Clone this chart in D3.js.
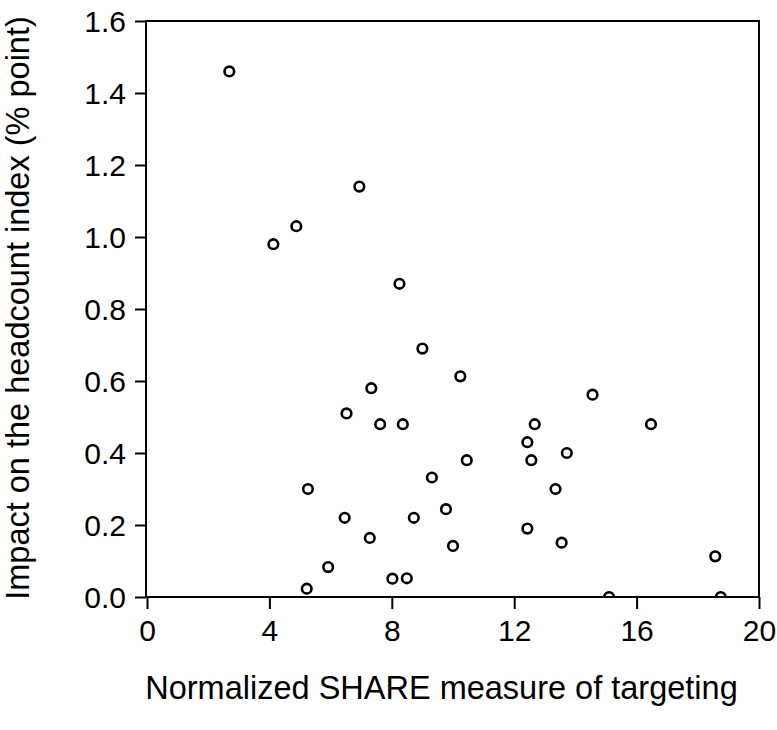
<!DOCTYPE html>
<html>
<head>
<meta charset="utf-8">
<script src="https://cdn.jsdelivr.net/npm/d3@7"></script>
<style>
  body { margin: 0; background: #fff; }
  svg text { font-family: "Liberation Sans", Arial, sans-serif; fill: #000; }
</style>
</head>
<body>
<script>
// data
var shareVals = [2.69, 4.13, 4.88, 6.94, 8.25,
    7.33, 6.52, 7.62, 8.36, 5.26, 6.46, 7.28, 5.92, 5.22, 8.02,
    9.0, 10.24, 14.56, 12.67, 16.47, 12.43, 12.56, 10.45, 13.72, 9.31,
    13.35, 9.77, 8.72, 12.43, 10.0, 13.55, 18.57, 8.49, 15.10, 18.75];
var impactVals = [1.46, 0.98, 1.03, 1.14, 0.87,
    0.58, 0.51, 0.48, 0.48, 0.30, 0.22, 0.164, 0.083, 0.023, 0.051,
    0.69, 0.613, 0.562, 0.48, 0.48, 0.43, 0.38, 0.38, 0.40, 0.332,
    0.30, 0.244, 0.22, 0.19, 0.142, 0.151, 0.113, 0.052, 0.0, 0.0];
var xTicks = [0, 4, 8, 12, 16, 20];
var yTicks = [0.0, 0.2, 0.4, 0.6, 0.8, 1.0, 1.2, 1.4, 1.6];
var xTitle = "Normalized SHARE measure of targeting";
var yTitle = "Impact on the headcount index (% point)";

var W = 777, H = 730;
var pL = 147, pR = 759, pT = 21, pB = 597;   // plot box edges

var svg = d3.select("body").append("svg")
    .attr("width", W)
    .attr("height", H);

var x = d3.scaleLinear().domain([0, 20]).range([pL, pR]);
var y = d3.scaleLinear().domain([0, 1.6]).range([pB, pT]);

// clip so the zero points get cut at the axis
svg.append("clipPath").attr("id", "plotclip")
  .append("rect")
    .attr("x", pL).attr("y", pT)
    .attr("width", pR - pL).attr("height", pB - pT);

// points
svg.append("g")
    .attr("clip-path", "url(#plotclip)")
  .selectAll("circle")
    .data(shareVals)
    .enter()
    .append("circle")
    .attr("cx", function(d) { return x(d); })
    .attr("cy", function(d, i) { return y(impactVals[i]); })
    .attr("r", 4.8)
    .style("fill", "none")
    .style("stroke", "#000")
    .style("stroke-width", 2.6);

// x axis
var xAxis = svg.append("g")
    .attr("transform", "translate(0," + pB + ")")
    .call(d3.axisBottom(x).tickValues(xTicks).tickSize(12).tickPadding(11)
        .tickFormat(d3.format("d")));
xAxis.selectAll("text").style("font-size", "30px");

// y axis
var yAxis = svg.append("g")
    .attr("transform", "translate(" + (pL - 1) + ",0)")
    .call(d3.axisLeft(y).tickValues(yTicks).tickSize(11).tickPadding(9)
        .tickFormat(d3.format(".1f")));
yAxis.selectAll("text").style("font-size", "30px").attr("dy", "0.36em");

svg.selectAll(".tick line")
    .style("stroke", "#000")
    .style("stroke-width", 2);
xAxis.select(".domain").remove();
yAxis.select(".domain").remove();

// frame
svg.append("rect")
    .attr("x", pL - 1)
    .attr("y", pT)
    .attr("width", pR - pL + 1)
    .attr("height", pB - pT)
    .style("fill", "none")
    .style("stroke", "#000")
    .style("stroke-width", 2);

// titles
svg.append("text")
    .attr("x", 441.5)
    .attr("y", 699)
    .attr("text-anchor", "middle")
    .style("font-size", "32.5px")
    .text(xTitle);

svg.append("text")
    .attr("transform", "translate(29,308) rotate(-90)")
    .attr("text-anchor", "middle")
    .style("font-size", "32.5px")
    .text(yTitle);
</script>
</body>
</html>
